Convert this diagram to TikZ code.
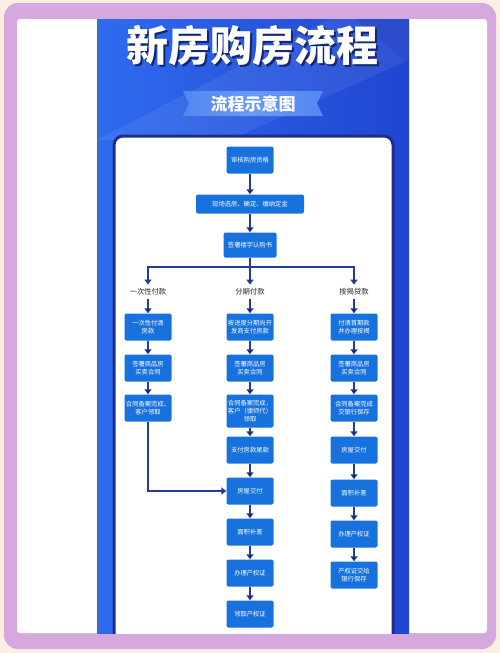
\documentclass[tikz,border=0pt]{standalone}
\usepackage{fontspec}
\newfontfamily\cjk{Noto Sans CJK SC}
\usetikzlibrary{positioning,arrows.meta}

\definecolor{peach}{HTML}{FCEEE2}
\definecolor{lavender}{HTML}{D5A9DE}
\definecolor{panelL}{HTML}{2F6BEE}
\definecolor{panelR}{HTML}{1F45D2}
\definecolor{navy}{HTML}{1C2F8E}
\definecolor{boxblue}{HTML}{1772DE}
\definecolor{arrowblue}{HTML}{213D98}
\definecolor{ribbon}{HTML}{6A9AF4}

\tikzset{
  stepbox/.style={rectangle, rounded corners=2pt, fill=boxblue, text=white,
    font=\cjk\fontsize{6.3}{7.6}\selectfont, align=center,
    minimum width=47pt, minimum height=27pt, inner sep=0.5pt},
  paylabel/.style={font=\cjk\fontsize{7.3}{8}\selectfont, text=black!85,
    inner sep=1pt, outer sep=3pt},
  flow/.style={draw=arrowblue, line width=2.4pt},
}

\begin{document}
\begin{tikzpicture}[x=1pt, y=-1pt, ->, >={Triangle[length=5pt,width=7pt]}, node distance=41pt]
  % frame and panel
  \useasboundingbox (0,0) rectangle (500,653);
  \fill[peach] (0,0) rectangle (500,653);
  \fill[lavender, rounded corners=14pt] (4,3) rectangle (496,649);
  \fill[white, rounded corners=3pt] (17,19) rectangle (487,633);
  \shade[left color=panelL, right color=panelR] (97,19) rectangle (409,633);
  \fill[white, opacity=0.07] (97,140) -- (330,19) -- (409,19) -- (409,60) -- (230,140) -- cycle;
  \fill[navy, opacity=0.18] (355,19) -- (409,19) -- (409,64) -- cycle;

  % title
  \node[font=\cjk\bfseries\fontsize{42}{42}\selectfont, text=navy!80!black] (titleshadow) at (254.5,48) {新房购房流程};
  \node[font=\cjk\bfseries\fontsize{42}{42}\selectfont, text=white] (title) at (252.5,45.5) {新房购房流程};
  \shade[left color=ribbon!60!panelL, right color=ribbon!60!panelL, middle color=ribbon]
    (183,91) -- (323,91) -- (317,103.5) -- (323,116) -- (183,116) -- (189,103.5) -- cycle;
  \node[font=\cjk\bfseries\fontsize{17}{17}\selectfont, text=white] (sub) at (253,103.5) {流程示意图};

  % card
  \begin{scope}
    \clip (97,19) rectangle (409,633);
    \draw[-, navy, line width=3pt, fill=white, rounded corners=9pt] (114,136) rectangle (393,660);
  \end{scope}

  % steps
  \node[stepbox] (1) at (250,160) {审核购房资格};
  \node[stepbox, minimum width=108pt, minimum height=19pt] (2) [below of=1, node distance=44pt] {现场选房、确定、缴纳定金};
  \node[stepbox, minimum width=53pt, minimum height=25pt] (3) [below of=2] {签署楼宇认购书};
  \coordinate[below of=3, node distance=22pt] (fork);

  \node[paylabel] (b0) [below of=3, node distance=47pt] {分期付款};
  \node[paylabel] (a0) [left of=b0, node distance=102pt] {一次性付款};
  \node[paylabel] (c0) [right of=b0, node distance=104pt] {按揭贷款};
  \coordinate (forka) at (fork -| a0);
  \coordinate (forkc) at (fork -| c0);

  \node[stepbox] (a1) [below of=a0, node distance=35pt] {一次性付清\\房款};
  \node[stepbox] (a2) [below of=a1] {签署商品房\\买卖合同};
  \node[stepbox] (a3) [below of=a2, node distance=40pt] {合同备案完成、\\客户领取};

  \node[stepbox] (b1) [below of=b0, node distance=35pt] {按进度分期向开\\发商支付房款};
  \node[stepbox] (b2) [below of=b1] {签署商品房\\买卖合同};
  \node[stepbox, minimum height=33pt] (b3) [below of=b2, node distance=43pt] {合同备案完成，\\客户（律师代）\\领取};
  \node[stepbox] (b4) [below of=b3, node distance=39pt] {支付房款尾款};
  \node[stepbox] (b5) [below of=b4] {房屋交付};
  \node[stepbox] (b6) [below of=b5] {面积补差};
  \node[stepbox] (b7) [below of=b6] {办理产权证};
  \node[stepbox] (b8) [below of=b7] {领取产权证};

  \node[stepbox] (c1) [below of=c0, node distance=35pt] {付清首期款\\并办理按揭};
  \node[stepbox] (c2) [below of=c1] {签署商品房\\买卖合同};
  \node[stepbox] (c3) [below of=c2, node distance=40pt] {合同备案完成\\交银行保存};
  \node[stepbox] (c4) [below of=c3, node distance=42pt] {房屋交付};
  \node[stepbox] (c5) [below of=c4, node distance=43pt] {面积补差};
  \node[stepbox] (c6) [below of=c5] {办理产权证};
  \node[stepbox] (c7) [below of=c6] {产权证交给\\银行保存};

  % arrows
  \path[flow]
  (1) edge (2)
  (2) edge (3);
  \draw[flow, -] (3) -- (fork);
  \draw[flow, -, line cap=rect] (forka) -- (forkc);
  \draw[flow] (forka) -- (a0);
  \draw[flow] (fork) -- (b0);
  \draw[flow] (forkc) -- (c0);
  \path[flow]
  (a0) edge (a1)
  (a1) edge (a2)
  (a2) edge (a3)
  (b0) edge (b1)
  (b1) edge (b2)
  (b2) edge (b3)
  (b3) edge (b4)
  (b4) edge (b5)
  (b5) edge (b6)
  (b6) edge (b7)
  (b7) edge (b8)
  (c0) edge (c1)
  (c1) edge (c2)
  (c2) edge (c3)
  (c3) edge (c4)
  (c4) edge (c5)
  (c5) edge (c6)
  (c6) edge (c7);
  \draw[flow] (a3) |- (b5);
\end{tikzpicture}
\end{document}
